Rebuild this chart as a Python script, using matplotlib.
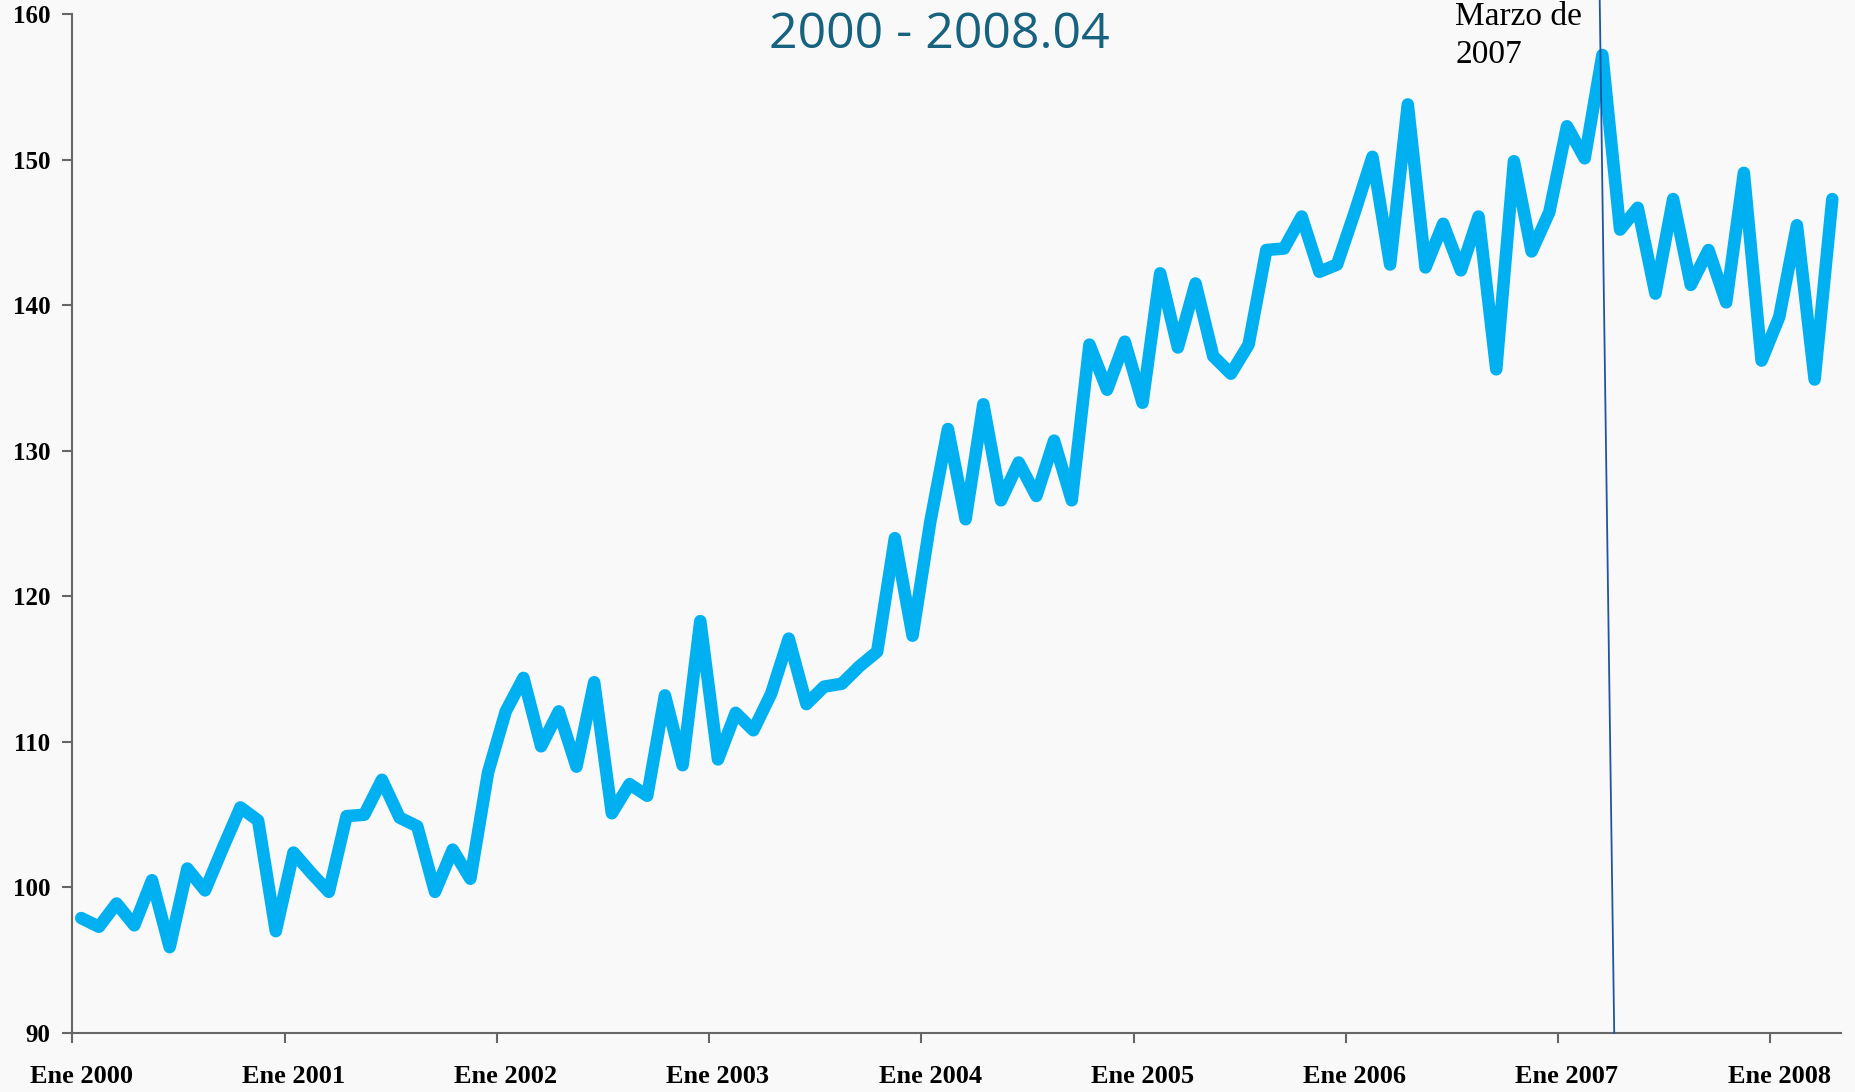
import matplotlib.pyplot as plt

# Índice mensual, Ene 2000 - Abr 2008 (100 meses)
valores = [
    97.9, 97.3, 98.9, 97.4, 100.5, 95.9, 101.3, 99.8, 102.7, 105.5, 104.6, 97.0,
    102.4, 101.0, 99.7, 104.9, 105.0, 107.4, 104.8, 104.2, 99.7, 102.6, 100.6, 107.9,
    112.1, 114.4, 109.7, 112.1, 108.3, 114.1, 105.1, 107.1, 106.3, 113.2, 108.4, 118.3,
    108.8, 112.0, 110.8, 113.3, 117.1, 112.6, 113.8, 114.0, 115.2, 116.2, 124.0, 117.3,
    125.1, 131.5, 125.3, 133.2, 126.6, 129.2, 126.9, 130.7, 126.6, 137.3, 134.2, 137.5,
    133.3, 142.2, 137.1, 141.5, 136.5, 135.3, 137.3, 143.8, 143.9, 146.1, 142.3, 142.8,
    146.4, 150.2, 142.8, 153.8, 142.6, 145.6, 142.4, 146.1, 135.6, 149.9, 143.7, 146.4,
    152.3, 150.1, 157.2, 145.2, 146.7, 140.8, 147.3, 141.4, 143.8, 140.2, 149.1, 136.2,
    139.2, 145.5, 134.9, 147.3,
]
etiquetas_x = ['Ene 2000', 'Ene 2001', 'Ene 2002', 'Ene 2003', 'Ene 2004',
               'Ene 2005', 'Ene 2006', 'Ene 2007', 'Ene 2008']
ticks_y = [90, 100, 110, 120, 130, 140, 150, 160]
titulo = '2000 - 2008.04'
nota = 'Marzo de\n2007'

meses = list(range(len(valores)))

fig = plt.figure(figsize=(18.56, 10.92), dpi=100, facecolor='#f9f9f9')
ax = fig.add_axes([0.039, 0.054, 0.953, 0.933])
ax.set_facecolor('#f9f9f9')

ax.plot(meses, valores, color='#00B0F0', linewidth=9,
        solid_joinstyle='round', solid_capstyle='round', zorder=3)

ax.set_xlim(-0.5, len(valores) - 0.5)
ax.set_ylim(90, 160)

# marcas en los bordes de categoría, etiquetas en el centro
ax.set_xticks([12 * k - 0.5 for k in range(len(etiquetas_x))])
ax.set_xticklabels([])
ax.set_xticks([12 * k for k in range(len(etiquetas_x))], minor=True)
ax.set_xticklabels(etiquetas_x, minor=True)
ax.tick_params(axis='x', which='major', length=7, width=1.5, color='#666666')
ax.tick_params(axis='x', which='minor', length=0, pad=23)

ax.set_yticks(ticks_y)
ax.set_yticklabels([str(t) for t in ticks_y])
ax.tick_params(axis='y', length=7, width=1.5, color='#666666', pad=9)

for lab in ax.get_xticklabels(minor=True):
    lab.set_fontfamily('Liberation Serif')
    lab.set_fontweight('bold')
    lab.set_fontsize(19)
for lab in ax.get_yticklabels():
    lab.set_fontfamily('Liberation Serif')
    lab.set_fontweight('bold')
    lab.set_fontsize(18)

for s in ['top', 'right']:
    ax.spines[s].set_visible(False)
for s in ['left', 'bottom']:
    ax.spines[s].set_color('#666666')
    ax.spines[s].set_linewidth(1.5)

# línea vertical marcando marzo de 2007
ax.plot([85.85, 86.67], [160.98, 90], color='#1f55a0', linewidth=1.3,
        clip_on=False, zorder=4)

fig.text(0.784, 0.999, nota, ha='left', va='top', fontsize=24,
         family='Liberation Serif', color='black', linespacing=1.35)
fig.text(0.506, 0.968, titulo, ha='center', va='center', fontsize=36,
         family='Open Sans', color='#17627e')

fig.savefig('out.png', dpi=100, facecolor=fig.get_facecolor())
